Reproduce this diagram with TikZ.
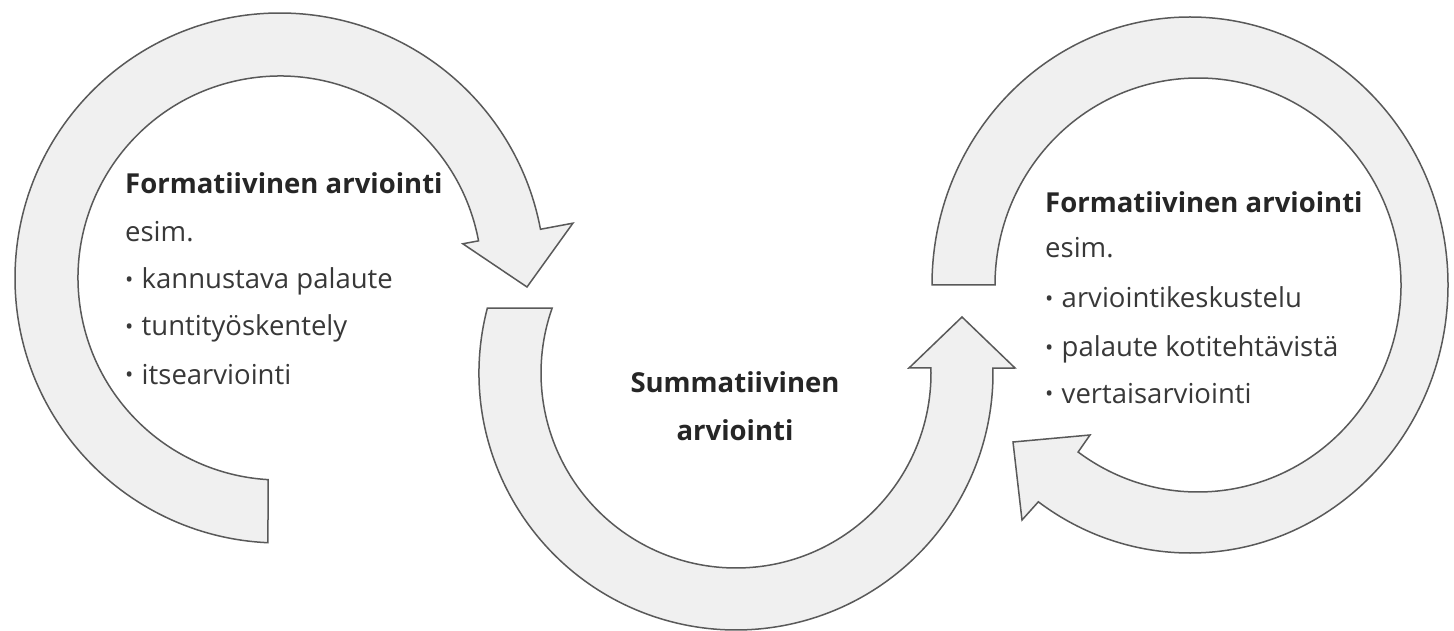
\documentclass[tikz,border=0pt]{standalone}
\usepackage{fontspec}
\setmainfont{Open Sans}
\usetikzlibrary{calc}
\newcommand{\bul}{\raisebox{0.05em}{\scalebox{0.8}{•}}\hspace{0.3em}}
\begin{document}
\begin{tikzpicture}[x=1pt,y=1pt,
  band/.style={draw=black!65, line width=1.5pt, fill=black!6, line join=miter},
  lbl/.style={anchor=base west, inner sep=0pt, text=black!78, font=\fontsize{27.5}{32}\selectfont},
  ttl/.style={anchor=base west, inner sep=0pt, text=black!85, font=\fontsize{27.5}{32}\selectfont\bfseries},
  mid/.style={anchor=base, inner sep=0pt, text=black!85, font=\fontsize{27.5}{32}\selectfont\bfseries},
]
\useasboundingbox[fill=white] (0,0) rectangle (1454,630);
\coordinate (C1) at (280,352);
\coordinate (C2) at (736,257);
\coordinate (C3) at (1190,345);
\coordinate (C3i) at (1198,345);
\coordinate (T1) at (527,343);
\coordinate (T2) at (962,313);
\coordinate (T3) at (1013,188);
% left ring
\draw[band] ($(C1)+(-92.6:265)$) arc[start angle=-92.6, end angle=-349.4, radius=265]
  -- ($(C1)+(10.6:298)$) -- (T1) -- ($(C1)+(10.6:186)$) -- ($(C1)+(10.6:202)$)
  arc[start angle=10.6, end angle=266.6, radius=202] -- cycle;
% middle arc
\draw[band] ($(C2)+(165.35:257)$) arc[start angle=165.35, end angle=361.1, radius=257]
  -- (1015,262) -- (T2) -- (909,262) -- ($(C2)+(361.5:195)$)
  arc[start angle=361.5, end angle=160.53, radius=195] -- cycle;
% right ring
\draw[band] ($(C3)+(180:258 and 268)$) arc[start angle=180, end angle=-126, x radius=258, y radius=268]
  -- (1022,110) -- (T3) -- (1090,195) -- ($(C3i)+(-126.2:203 and 207)$)
  arc[start angle=-126.2, end angle=180, x radius=203, y radius=207] -- cycle;
% left texts
\node[ttl] (l1) at (125,436) {Formatiivinen arviointi};
\node[lbl] (l2) at (125,388) {esim.};
\node[lbl] (l3) at (125,341) {\bul kannustava palaute};
\node[lbl] (l4) at (125,294) {\bul tuntityöskentely};
\node[lbl] (l5) at (125,246) {\bul itsearviointi};
% middle
\node[mid] (m1) at (735,237) {Summatiivinen};
\node[mid] (m2) at (735,190) {arviointi};
% right texts
\node[ttl] (r1) at (1045,417) {Formatiivinen arviointi};
\node[lbl] (r2) at (1045,372) {esim.};
\node[lbl] (r3) at (1045,322) {\bul arviointikeskustelu};
\node[lbl] (r4) at (1045,273) {\bul palaute kotitehtävistä};
\node[lbl] (r5) at (1045,227) {\bul vertaisarviointi};
\end{tikzpicture}
\end{document}
